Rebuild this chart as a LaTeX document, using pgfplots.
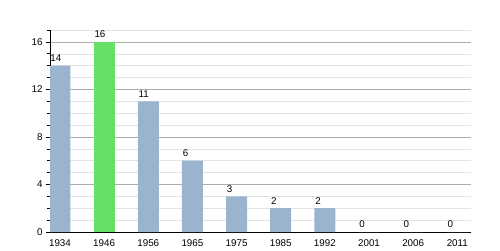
\documentclass[border=0pt]{standalone}
\usepackage{pgfplots}
\pgfplotsset{compat=1.18}
\usepackage{fontspec}
\setmainfont{Liberation Sans}
\definecolor{barblue}{HTML}{9AB4CF}
\definecolor{bargreen}{HTML}{66E066}
\begin{document}
\begin{tikzpicture}[x=1pt,y=1pt]
\useasboundingbox (0,0) rectangle (500,250);
\begin{axis}[
 at={(50pt,18pt)}, anchor=south west,
 scale only axis, width=421pt, height=202pt,
 xmin=-0.2265, xmax=9.31, ymin=0, ymax=17,
 axis x line=bottom, axis y line=left,
 axis line style={-, black, line width=0.8pt},
 xtick={0,1,2,3,4,5,6,7,8,9},
 xticklabels={1934,1946,1956,1965,1975,1985,1992,2001,2006,2011},
 major x tick style={draw=none},
 ytick={0,4,8,12,16},
 minor ytick={1,2,3,5,6,7,9,10,11,13,14,15,17},
 tick align=outside, major tick length=4pt, minor tick length=3pt,
 tick style={black, line width=0.6pt},
 ymajorgrids, yminorgrids,
 major grid style={color=black!32, line width=0.5pt},
 minor grid style={color=black!11, line width=0.5pt},
 tick label style={font=\fontsize{9.8}{11}\selectfont},
 /pgf/number format/assume math mode=true,
 ybar, bar width=21pt,
 nodes near coords,
 nodes near coords style={font=\fontsize{9.8}{11}\selectfont, anchor=south west, inner sep=0pt, xshift=-9.8pt, yshift=4pt, black},
]
\addplot[fill=barblue, draw=none, bar shift=0pt] coordinates {
 (0,14) (2,11) (3,6) (4,3) (5,2) (6,2) (7,0) (8,0) (9,0)};
\addplot[fill=bargreen, draw=none, bar shift=0pt] coordinates {(1,16)};
\end{axis}
\end{tikzpicture}
\end{document}
